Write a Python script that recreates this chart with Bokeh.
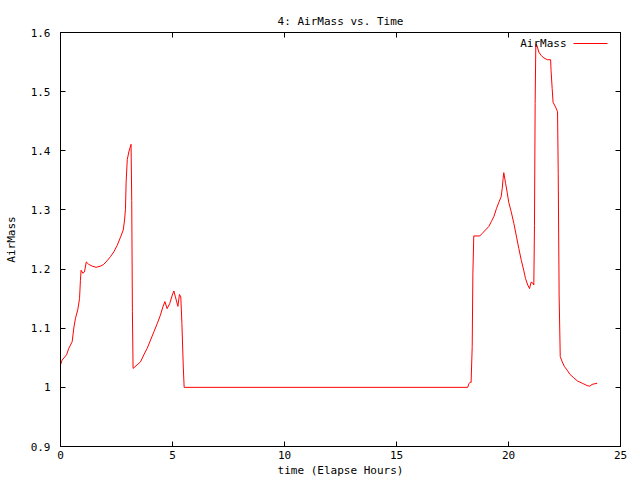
from bokeh.plotting import figure
from bokeh.models import (LinearAxis, Range1d, FixedTicker, CustomJSTickFormatter, Label)
from bokeh.embed import file_html
from bokeh.resources import INLINE

title_text = "4: AirMass vs. Time"
x_label = "time (Elapse Hours)"
y_label = "AirMass"
series_name = "AirMass"

x_ticks = [0, 5, 10, 15, 20, 25]
y_ticks = [0.9, 1.0, 1.1, 1.2, 1.3, 1.4, 1.5, 1.6]

hours = [0.0, 0.07, 0.27, 0.37, 0.52, 0.60, 0.67, 0.77, 0.85, 0.89, 0.92, 1.00, 1.07, 1.15,
         1.26, 1.41, 1.59, 1.79, 1.93, 2.08, 2.23, 2.38, 2.53, 2.68, 2.80, 2.86, 2.90, 2.93,
         2.98, 3.05, 3.11, 3.15, 3.18, 3.21, 3.24, 3.42, 3.57, 3.72, 3.87, 4.02, 4.17, 4.32,
         4.46, 4.57, 4.66, 4.76, 4.88, 4.99, 5.06, 5.13, 5.24, 5.31, 5.37, 5.42, 5.48, 5.52,
         18.18, 18.23, 18.30, 18.33, 18.38, 18.41, 18.45, 18.72, 18.82, 18.97, 19.12, 19.23,
         19.35, 19.46, 19.57, 19.67, 19.72, 19.76, 19.79, 19.87, 19.94, 20.01, 20.12, 20.24,
         20.36, 20.46, 20.57, 20.68, 20.76, 20.86, 20.94, 21.01, 21.09, 21.13, 21.16, 21.19,
         21.22, 21.28, 21.35, 21.46, 21.58, 21.73, 21.88, 21.90, 21.95, 21.99, 22.10, 22.19,
         22.22, 22.26, 22.31, 22.40, 22.50, 22.62, 22.74, 22.89, 23.07, 23.29, 23.51, 23.63,
         23.73, 23.96]

airmass = [1.038, 1.046, 1.055, 1.066, 1.077, 1.102, 1.117, 1.131, 1.150, 1.181, 1.198, 1.193,
           1.195, 1.212, 1.208, 1.205, 1.203, 1.205, 1.208, 1.214, 1.221, 1.229, 1.240, 1.254,
           1.266, 1.283, 1.301, 1.347, 1.385, 1.398, 1.406, 1.411, 1.316, 1.128, 1.032, 1.038,
           1.043, 1.055, 1.066, 1.080, 1.094, 1.108, 1.122, 1.136, 1.145, 1.133, 1.142, 1.156,
           1.163, 1.153, 1.137, 1.157, 1.153, 1.108, 1.036, 1.000, 1.000, 1.006, 1.009, 1.008,
           1.069, 1.193, 1.256, 1.256, 1.260, 1.266, 1.272, 1.280, 1.289, 1.302, 1.313, 1.322,
           1.336, 1.353, 1.363, 1.345, 1.330, 1.313, 1.297, 1.277, 1.254, 1.235, 1.215, 1.198,
           1.184, 1.173, 1.167, 1.178, 1.176, 1.173, 1.274, 1.480, 1.581, 1.577, 1.567, 1.561,
           1.557, 1.554, 1.554, 1.536, 1.505, 1.482, 1.474, 1.466, 1.361, 1.156, 1.052, 1.043,
           1.035, 1.029, 1.022, 1.017, 1.011, 1.007, 1.003, 1.002, 1.005, 1.007]

FONT = "DejaVu Sans Mono"
FS = "11px"

X0, X1, Y0, Y1 = 0, 25, 0.9, 1.6
W, H = 640, 480
BL, BR, BT, BB = 60, 20, 32, 34

p = figure(width=W, height=H, output_backend="svg", toolbar_location=None,
           x_range=Range1d(X0, X1), y_range=Range1d(Y0, Y1),
           title=title_text, x_axis_type=None, y_axis_type=None,
           min_border_left=BL, min_border_right=BR, min_border_top=BT, min_border_bottom=BB)

p.title.text_font = FONT
p.title.text_font_size = FS
p.title.text_font_style = "normal"
p.title.text_color = "black"
p.title.align = "center"
p.title.standoff = 10

p.xgrid.visible = False
p.ygrid.visible = False
p.outline_line_color = "black"
p.outline_line_width = 1
p.background_fill_color = "white"
p.border_fill_color = "white"

yfmt = CustomJSTickFormatter(code="return (Math.round(tick*10)/10).toString();")
blank = CustomJSTickFormatter(code="return '';")


def style_axis(ax):
    ax.axis_line_color = "black"
    ax.major_tick_line_color = "black"
    ax.major_tick_in = 5
    ax.major_tick_out = 0
    ax.minor_tick_line_color = None
    ax.major_label_text_font = FONT
    ax.major_label_text_font_size = FS
    ax.major_label_text_color = "black"
    ax.axis_label_text_font = FONT
    ax.axis_label_text_font_size = FS
    ax.axis_label_text_font_style = "normal"
    ax.axis_label_text_color = "black"


xb = LinearAxis(ticker=FixedTicker(ticks=x_ticks), axis_label=x_label)
style_axis(xb)
xb.major_label_standoff = 4
xb.axis_label_standoff = 2
p.add_layout(xb, "below")

yl = LinearAxis(ticker=FixedTicker(ticks=y_ticks), axis_label=y_label, formatter=yfmt)
style_axis(yl)
yl.major_label_standoff = 10
yl.axis_label_standoff = 10
p.add_layout(yl, "left")

xt = LinearAxis(ticker=FixedTicker(ticks=x_ticks), formatter=blank)
style_axis(xt)
xt.major_label_standoff = 0
p.add_layout(xt, "above")

yr = LinearAxis(ticker=FixedTicker(ticks=y_ticks), formatter=blank)
style_axis(yr)
yr.major_label_standoff = 0
p.add_layout(yr, "right")

r = p.line(hours, airmass, line_color="#ff0000", line_width=1)

# gnuplot-style key (label, then line sample) at the top right of the frame
fw = W - BL - BR
fh = H - BT - BB


def sx(px):
    return X0 + (px - BL) / fw * (X1 - X0)


def sy(py):
    return Y1 - (py - BT) / fh * (Y1 - Y0)


key_y = sy(43)
p.add_layout(Label(x=sx(566), y=key_y, text=series_name, text_align="right",
                   text_baseline="middle", text_font=FONT, text_font_size=FS,
                   text_font_style="normal", text_color="black"))
p.line([sx(573), sx(607)], [key_y, key_y], line_color="#ff0000", line_width=1)

open("out.html", "w").write(file_html(p, INLINE))
